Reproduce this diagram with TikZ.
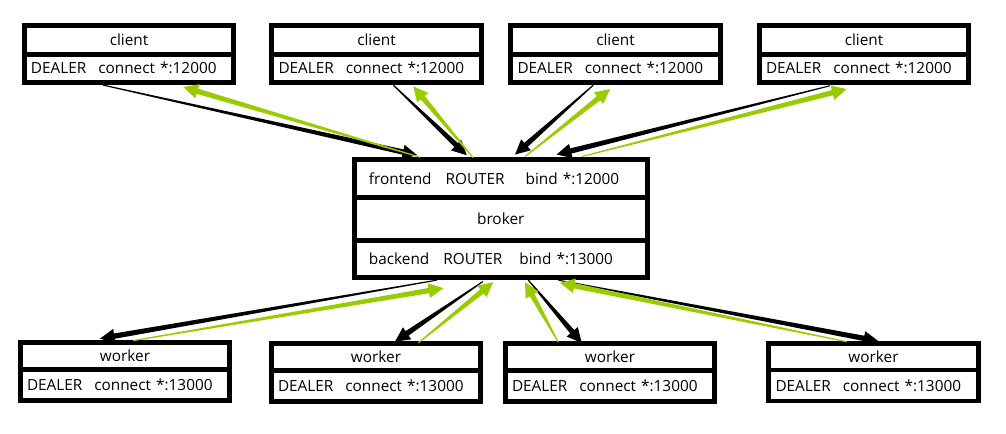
\documentclass[tikz,border=0pt]{standalone}
\usepackage{fontspec}
\setmainfont{Open Sans}
\usetikzlibrary{positioning,calc}
\definecolor{zgreen}{RGB}{153,204,0}
\tikzset{
  box/.style={draw, line width=3.6pt, outer sep=0pt, inner ysep=0pt,
    font=\fontsize{11.5}{14}\selectfont},
  head/.style={box, align=center, minimum width=157pt, text width=147pt, inner xsep=5pt, minimum height=21.2pt},
  sock/.style={box, align=left, minimum width=157pt, text width=147pt, inner xsep=5pt, minimum height=21.2pt},
  port/.style={box, align=left, minimum width=219.7pt, text width=197.7pt, inner xsep=11pt},
  taper/.style={to path={
    ($(\tikztostart)!0.4pt!90:(\tikztotarget)$)
    -- ($(\tikztotarget)!11pt!(\tikztostart)!2pt!90:(\tikztotarget)$)
    -- ($(\tikztotarget)!11pt!(\tikztostart)!5.5pt!90:(\tikztotarget)$)
    -- (\tikztotarget)
    -- ($(\tikztotarget)!11pt!(\tikztostart)!5.5pt!-90:(\tikztotarget)$)
    -- ($(\tikztotarget)!11pt!(\tikztostart)!2pt!-90:(\tikztotarget)$)
    -- ($(\tikztostart)!0.4pt!-90:(\tikztotarget)$) -- cycle}},
  req/.style={fill=black, taper},
  rep/.style={fill=zgreen, taper}
}

\begin{document}
\begin{tikzpicture}[x=0.75pt, y=-0.75pt]
\useasboundingbox (0,0) rectangle (1006,433);
% clients
\node[head] (c1) at (129,40) {client};
\node[sock, below=0pt of c1] (c1s) {DEALER\hspace{9pt}connect *:12000};
\node[head] (c2) at (376.5,40) {client};
\node[sock, below=0pt of c2] (c2s) {DEALER\hspace{9pt}connect *:12000};
\node[head] (c3) at (615.5,40) {client};
\node[sock, below=0pt of c3] (c3s) {DEALER\hspace{9pt}connect *:12000};
\node[head] (c4) at (864,40) {client};
\node[sock, below=0pt of c4] (c4s) {DEALER\hspace{9pt}connect *:12000};

% broker
\node[port, minimum height=28.7pt] (fe) at (500.75,178.35) {frontend\hspace{10.5pt}ROUTER\hspace{15.75pt}bind *:12000};
\node[port, align=center, minimum height=32.5pt, below=0pt of fe] (brk) {broker};
\node[port, minimum height=27.5pt, below=0pt of brk] (be) {backend\hspace{10.5pt}ROUTER\hspace{12.75pt}bind *:13000};

% workers
\node[head, minimum height=20.1pt] (w1) at (125,356) {worker};
\node[sock, minimum height=23.3pt, below=0pt of w1] (w1s) {DEALER\hspace{9pt}connect *:13000};
\node[head, minimum height=20.1pt] (w2) at (376,357) {worker};
\node[sock, minimum height=23.3pt, below=0pt of w2] (w2s) {DEALER\hspace{9pt}connect *:13000};
\node[head, minimum height=20.1pt] (w3) at (610,357) {worker};
\node[sock, minimum height=23.3pt, below=0pt of w3] (w3s) {DEALER\hspace{9pt}connect *:13000};
\node[head, minimum height=20.1pt] (w4) at (873.5,356.5) {worker};
\node[sock, minimum height=23.3pt, below=0pt of w4] (w4s) {DEALER\hspace{9pt}connect *:13000};

% client <-> frontend
\path[req] ([xshift=-19.5pt,yshift=-2pt]c1s.south) to ([xshift=-62.6pt,yshift=3pt]fe.north);
\path[rep] ([xshift=-60.5pt,yshift=1.5pt]fe.north) to ([xshift=40.7pt,yshift=-3.5pt]c1s.south);
\path[req] ([xshift=12.6pt,yshift=-2pt]c2s.south) to ([xshift=-25.5pt,yshift=3pt]fe.north);
\path[rep] ([xshift=-20.6pt,yshift=1pt]fe.north) to ([xshift=27.6pt,yshift=-3pt]c2s.south);
\path[req] ([xshift=-16.6pt,yshift=-2pt]c3s.south) to ([xshift=10.7pt,yshift=3.5pt]fe.north);
\path[rep] ([xshift=18.2pt,yshift=2pt]fe.north) to ([xshift=-4.1pt,yshift=-5pt]c3s.south);
\path[req] ([xshift=-25.5pt,yshift=-2.5pt]c4s.south) to ([xshift=41.9pt,yshift=3.5pt]fe.north);
\path[rep] ([xshift=60.7pt,yshift=2pt]fe.north) to ([xshift=-13pt,yshift=-5pt]c4s.south);

% backend <-> workers
\path[req] ([xshift=-48pt,yshift=-2pt]be.south) to ([xshift=-18.75pt,yshift=3pt]w1.north);
\path[rep] ([xshift=6.2pt,yshift=1.5pt]w1.north) to ([xshift=-43.1pt,yshift=-8pt]be.south);
\path[req] ([xshift=-13.3pt,yshift=-3pt]be.south) to ([xshift=14.25pt,yshift=1.5pt]w2.north);
\path[rep] ([xshift=31.7pt,yshift=0.5pt]w2.north) to ([xshift=-5.6pt,yshift=-3.5pt]be.south);
\path[req] ([xshift=20.7pt,yshift=-2pt]be.south) to ([xshift=-21.2pt,yshift=0.5pt]w3.north);
\path[rep] ([xshift=-38.8pt,yshift=1pt]w3.north) to ([xshift=18.2pt,yshift=-3.5pt]be.south);
\path[req] ([xshift=43.2pt,yshift=-2pt]be.south) to ([xshift=3.6pt,yshift=1.5pt]w4.north);
\path[rep] ([xshift=-20.1pt,yshift=1pt]w4.north) to ([xshift=44.4pt,yshift=-4pt]be.south);
\end{tikzpicture}
\end{document}
